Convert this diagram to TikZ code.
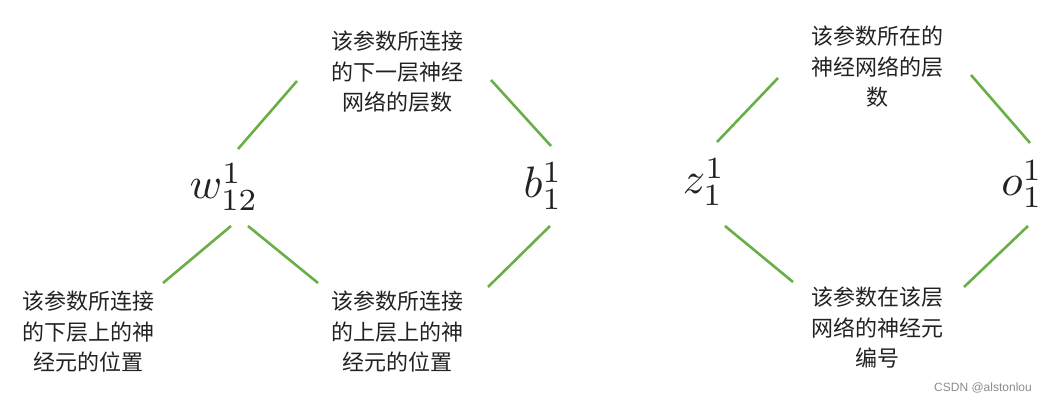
\documentclass[tikz,border=0pt]{standalone}
\usepackage{graphicx}
\usepackage{fontspec}
\newfontfamily\cjk{Noto Sans CJK SC}
\newfontfamily\wmfont{Liberation Sans}
\definecolor{linegreen}{HTML}{6AAF45}
\definecolor{txt}{HTML}{222222}
\newcommand{\bigsym}[3]{\scalebox{4.4}{\normalsize$#1^{\raisebox{-1.5pt}{$\scriptstyle #2$}}_{\raisebox{-1.5pt}{$\scriptstyle #3$}}$}}
\tikzset{
  note/.style={font=\cjk\fontsize{22}{30.5}\selectfont, text=txt, align=center, inner sep=0pt},
  sym/.style={text=txt, inner sep=0pt, anchor=base},
  link/.style={draw=linegreen, line width=2.6pt},
}
\begin{document}
\begin{tikzpicture}[x=1pt,y=-1pt]
\useasboundingbox (0,0) rectangle (1057,403);
% symbols
\node[sym] (w) at (224,199) {\bigsym{w}{1}{12}};
\node[sym] (b) at (543,198) {\bigsym{b}{1}{1}};
\node[sym] (z) at (704,194) {\bigsym{z}{1}{1}};
\node[sym] (o) at (1022,196) {\bigsym{o}{1}{1}};
% notes
\node[note] (tm) at (397,72) {该参数所连接\\的下一层神经\\网络的层数};
\node[note] (bl) at (88,332) {该参数所连接\\的下层上的神\\经元的位置};
\node[note] (bm) at (397,332) {该参数所连接\\的上层上的神\\经元的位置};
\node[note] (tr) at (877,67) {该参数所在的\\神经网络的层\\数};
\node[note] (br) at (877,328) {该参数在该层\\网络的神经元\\编号};
\node[font=\wmfont\fontsize{12}{14}\selectfont, text=black!45, inner sep=0pt] (wm) at (983,388) {CSDN @alstonlou};
% connector end points
\coordinate (a1) at (297,81);  \coordinate (a2) at (238,149);
\coordinate (c1) at (491,80);  \coordinate (c2) at (551,146);
\coordinate (d1) at (231,226); \coordinate (d2) at (163,283);
\coordinate (e1) at (248,226); \coordinate (e2) at (318,283);
\coordinate (f1) at (550,226); \coordinate (f2) at (488,287);
\coordinate (g1) at (778,78);  \coordinate (g2) at (717,142);
\coordinate (h1) at (971,75);  \coordinate (h2) at (1030,143);
\coordinate (i1) at (725,226); \coordinate (i2) at (793,282);
\coordinate (j1) at (1028,226);\coordinate (j2) at (964,287);
\draw[link] (a1) -- (a2);
\draw[link] (c1) -- (c2);
\draw[link] (d1) -- (d2);
\draw[link] (e1) -- (e2);
\draw[link] (f1) -- (f2);
\draw[link] (g1) -- (g2);
\draw[link] (h1) -- (h2);
\draw[link] (i1) -- (i2);
\draw[link] (j1) -- (j2);
\end{tikzpicture}
\end{document}
